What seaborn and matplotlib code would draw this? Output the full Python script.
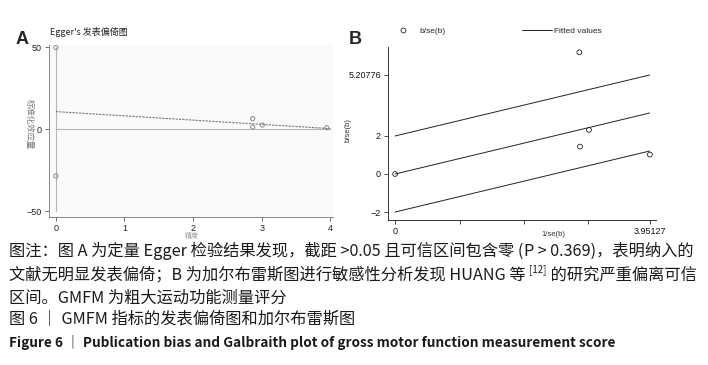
import matplotlib
matplotlib.use("Agg")
import matplotlib.pyplot as plt
from matplotlib.transforms import IdentityTransform
from matplotlib.lines import Line2D
import pandas as pd
import seaborn as sns

sns.set_theme(style="ticks")
plt.rcParams["font.family"] = ["Liberation Sans", "Noto Sans CJK SC", "DejaVu Sans"]
plt.rcParams["axes.unicode_minus"] = True

CJK = ["Noto Sans CJK SC", "DejaVu Sans"]

# ── Panel A: Egger plot (precision vs standardized effect) ──
egger_prec = [2.87, 2.87, 3.01, 3.95]
egger_std = [6.5, 1.4, 2.6, 1.0]
egger_ci_x = [0, 0]
egger_ci_y = [50, -28.5]
egger_fit_x = [0, 4]
egger_fit_y = [10.8, 0.4]
egger_yticks = [50, 0, -50]
egger_xticks = [0, 1, 2, 3, 4]

# ── Panel B: Galbraith plot ──
galb_x = [0, 2.86, 3.01, 2.87, 3.955]
galb_y = [0, 6.4, 2.32, 1.44, 1.02]
galb_fit_x = [0, 3.95127]
galb_fit_y = [0, 3.20776]
galb_band = 2
galb_yticks = [-2, 0, 2, 5.20776]
galb_yticklabels = ["\u22122", "0", "2", "5.20776"]
galb_xticks = [0, 1, 2, 3, 3.95127]
galb_xticklabels = ["0", "", "", "", "3.95127"]

W, H = 708, 365
fig = plt.figure(figsize=(W / 100, H / 100), dpi=100)


def px_axes(l, t, r, b):
    return fig.add_axes([l / W, (H - b) / H, (r - l) / W, (b - t) / H])


# ---------- Panel A ----------
axA = px_axes(49, 45, 333, 217)
axA.set_facecolor("#fafafa")
axA.plot([0, 0], [-50, 50], color="#b5b5b5", lw=0.8, zorder=1)
axA.plot([0, 4], [0, 0], color="#b5b5b5", lw=0.8, zorder=1)
sns.lineplot(x=egger_fit_x, y=egger_fit_y, ax=axA, color="#777777",
             lw=0.8, linestyle=(0, (2, 1)), zorder=2)
sns.scatterplot(x=egger_prec + egger_ci_x, y=egger_std + egger_ci_y, ax=axA,
                marker="o", s=9, facecolor="none", edgecolor="#8a8a8a",
                linewidth=0.7, zorder=3)
axA.set_xlim(-0.10, 4.04)
axA.set_ylim(-53.6, 51.5)
axA.set_xticks(egger_xticks)
axA.set_yticks(egger_yticks)
axA.set_yticklabels(["50", "0", "\u221250"])
axA.tick_params(labelsize=6.5, length=3, width=0.6, color="#555555",
                labelcolor="#222222", pad=2)
for s in ["top", "right"]:
    axA.spines[s].set_visible(False)
for s in ["left", "bottom"]:
    axA.spines[s].set_linewidth(0.7)
    axA.spines[s].set_color("#888888")
axA.set_xlabel("")
axA.set_ylabel("")

fig.text(50 / W, 1 - 32 / H, "Egger's 发表偏倚图", fontsize=6.5, family=CJK,
         ha="left", va="center", color="#222222")
fig.text(29 / W, 1 - 124 / H, "标准化效应量", fontsize=6, family=CJK,
         rotation=270, ha="center", va="center", color="#777777")
fig.text(192 / W, 1 - 236 / H, "精度", fontsize=5, family=CJK,
         ha="center", va="center", color="#999999")
fig.text(22 / W, 1 - 40 / H, "A", fontsize=13, fontweight="bold",
         family=["Liberation Sans"], ha="center", va="center")

# ---------- Panel B ----------
axB = px_axes(388, 47, 656, 220)
for off in (galb_band, 0, -galb_band):
    sns.lineplot(x=galb_fit_x, y=[v + off for v in galb_fit_y], ax=axB,
                 color="#222222", lw=0.7)
sns.scatterplot(x=galb_x, y=galb_y, ax=axB, marker="o", s=12,
                facecolor="none", edgecolor="#222222", linewidth=0.6, zorder=3)
axB.set_xlim(-0.11, 4.05)
axB.set_ylim(-2.42, 6.68)
axB.set_yticks(galb_yticks)
axB.set_yticklabels(galb_yticklabels)
axB.set_xticks(galb_xticks)
axB.set_xticklabels(galb_xticklabels)
axB.tick_params(labelsize=6.5, length=3, width=0.6, color="#333333",
                labelcolor="#111111", pad=2)
for s in ["top", "right"]:
    axB.spines[s].set_visible(False)
for s in ["left", "bottom"]:
    axB.spines[s].set_linewidth(0.7)
    axB.spines[s].set_color("#333333")
axB.set_xlabel("")
axB.set_ylabel("")

fig.text(348 / W, 1 - 130 / H, "b/se(b)", fontsize=5.5, rotation=90,
         ha="center", va="center", color="#333333")
fig.text(553 / W, 1 - 234 / H, "1/se(b)", fontsize=5.5,
         ha="center", va="center", color="#333333")
fig.text(355 / W, 1 - 39 / H, "B", fontsize=13, fontweight="bold",
         family=["Liberation Sans"], ha="center", va="center")

handles = [Line2D([], [], marker="o", ls="none", mfc="none", mec="#222222",
                  ms=3.5, mew=0.6),
           Line2D([], [], color="#222222", lw=0.7)]
fig.legend(handles, ["b/se(b)", "Fitted values"], ncol=2, frameon=False,
           loc="center left", bbox_to_anchor=(388 / W, 1 - 31 / H),
           fontsize=6, handlelength=3.6, handletextpad=0.2,
           columnspacing=9.2, borderpad=0, borderaxespad=0)


# ---------- caption ----------
def rich_line(x, y, parts, size):
    fig.canvas.draw()
    r = fig.canvas.get_renderer()
    for txt, kw in parts:
        kw = dict(kw)
        dy = kw.pop("dy", 0)
        sz = kw.pop("size", size)
        t = fig.text(x, H - y + dy, txt, transform=IdentityTransform(),
                     fontsize=sz, family=CJK, va="center", ha="left",
                     color="#1a1a1a", **kw)
        x = t.get_window_extent(r).x1


cap = 11.7
rich_line(9, 251, [("图注：图 A 为定量 Egger 检验结果发现，截距 >0.05 且可信区间包含零 (", {}),
                   ("P", {"style": "italic"}),
                   (" > 0.369)，表明纳入的", {})], cap)
rich_line(9, 275, [("文献无明显发表偏倚；B 为加尔布雷斯图进行敏感性分析发现 HUANG 等 ", {}),
                   ("[12]", {"size": 7, "dy": 5}),
                   (" 的研究严重偏离可信", {})], cap)
rich_line(9, 298, [("区间。GMFM 为粗大运动功能测量评分", {})], cap)
rich_line(9, 320, [("图 6 ｜ GMFM 指标的发表偏倚图和加尔布雷斯图", {})], cap)
rich_line(9, 342, [("Figure 6 ｜ Publication bias and Galbraith plot of gross motor function measurement score",
                    {"fontweight": "bold"})], 9.8)

fig.savefig("out.png", dpi=100)
